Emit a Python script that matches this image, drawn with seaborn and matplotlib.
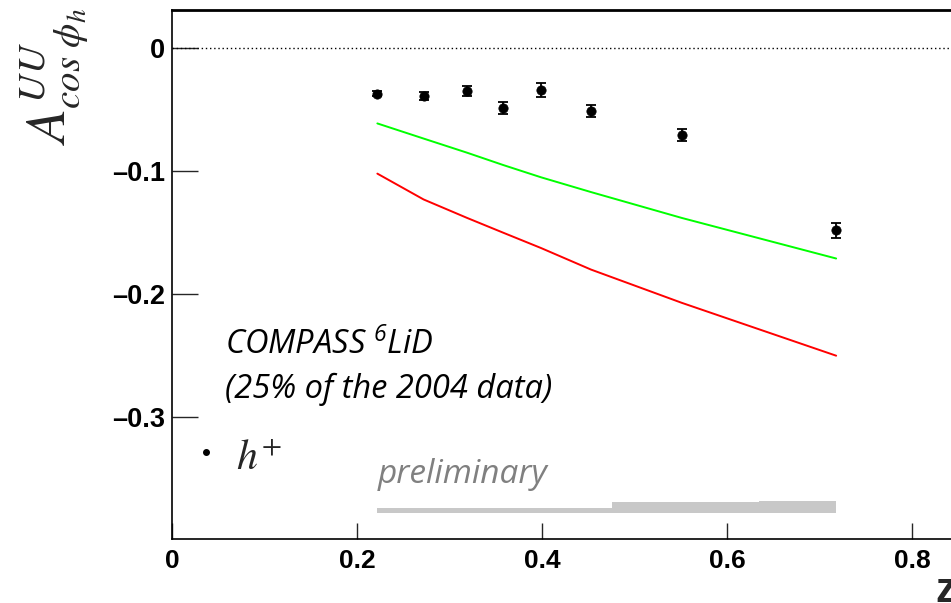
import numpy as np
import matplotlib
matplotlib.use('Agg')
import matplotlib.pyplot as plt
import seaborn as sns

# data
z = [0.222, 0.272, 0.319, 0.358, 0.399, 0.453, 0.551, 0.718]
asym = [-0.037, -0.039, -0.035, -0.0485, -0.034, -0.051, -0.0705, -0.148]
asym_err = [0.002, 0.003, 0.0043, 0.005, 0.0057, 0.0049, 0.0047, 0.006]
model_green = [-0.0612, -0.0735, -0.085, -0.095, -0.105, -0.117, -0.138, -0.171]
model_red = [-0.102, -0.123, -0.138, -0.150, -0.1625, -0.180, -0.207, -0.250]
sys_edges = [0.222, 0.476, 0.635, 0.718]
sys_height = [0.004, 0.009, 0.0098]
sys_base = -0.378

yticks = [0, -0.1, -0.2, -0.3]
ytick_labels = ['0', '\u20130.1', '\u20130.2', '\u20130.3']
xticks = [0, 0.2, 0.4, 0.6, 0.8, 1.0]
xtick_labels = ['0', '0.2', '0.4', '0.6', '0.8', '1']

sns.set_theme(style='white')
plt.rcParams['font.family'] = ['Liberation Sans', 'DejaVu Sans']
plt.rcParams['mathtext.fontset'] = 'custom'
plt.rcParams['mathtext.rm'] = 'Open Sans:italic'
plt.rcParams['mathtext.it'] = 'Open Sans:italic'

W, H = 951, 603
fig = plt.figure(figsize=(W / 100, H / 100), dpi=100)
ax = fig.add_axes([172 / W, 1 - 539 / H, 925 / W, (539 - 10) / H])

# systematic band
ax.stairs(np.array(sys_height) + sys_base, sys_edges, baseline=sys_base,
          fill=True, color='#c8c8c8', lw=0)

# model curves
sns.lineplot(x=z, y=model_green, color='#00ff00', lw=1.4, ax=ax)
sns.lineplot(x=z, y=model_red, color='#ff0000', lw=1.4, ax=ax)

# data points
ax.errorbar(z, asym, yerr=asym_err, fmt='none', ecolor='black',
            elinewidth=1.3, capsize=3.5, capthick=1.3, zorder=4)
sns.scatterplot(x=z, y=asym, color='black', s=45, edgecolor='black',
                linewidth=0.5, zorder=5, ax=ax)

ax.axhline(0, color='black', ls=(0, (1, 2)), lw=1)

ax.set_xlim(0, 1.0)
ax.set_ylim(-0.399, 0.031)
ax.set_xticks(xticks)
ax.set_xticklabels(xtick_labels)
ax.set_yticks(yticks)
ax.set_yticklabels(ytick_labels)
for lab in ax.get_xticklabels():
    lab.set_fontweight('bold')
    lab.set_fontsize(19)
    lab.set_color('black')
for lab in ax.get_yticklabels():
    lab.set_fontweight('bold')
    lab.set_fontsize(19.5)
    lab.set_color('black')
ax.tick_params(axis='y', direction='in', length=19, width=1, pad=5, left=True)
ax.tick_params(axis='x', direction='in', length=11.5, width=1, pad=7, bottom=True)
for s in ax.spines.values():
    s.set_color('black')
    s.set_linewidth(1.2)
ax.spines['top'].set_linewidth(2)

# annotations
ax.text(0.057, -0.2488, 'COMPASS $^{6}$LiD', fontsize=23.5, style='italic',
        family=['Open Sans', 'DejaVu Sans'], color='black')
ax.text(0.057, -0.2846, '(25% of the 2004 data)', fontsize=23.5, style='italic',
        family=['Open Sans', 'DejaVu Sans'], color='black')
ax.plot([0.0368], [-0.328], 'o', color='black', ms=4)
ax.text(0.069, -0.343, r'$h^{+}$', fontsize=30, math_fontfamily='stix')
ax.text(0.222, -0.3537, 'preliminary', fontsize=24, style='italic',
        family=['Open Sans', 'DejaVu Sans'], color='#808080')

fig.text(55 / W, 1 - 8 / H, r'$A^{UU}_{cos\ \phi_h}$', rotation=90,
         ha='center', va='top', fontsize=40, math_fontfamily='stix')
fig.text(935 / W, 1 - 602 / H, 'z', fontsize=30, fontweight='bold',
         ha='left', va='baseline')

fig.savefig('out.png', dpi=100)
